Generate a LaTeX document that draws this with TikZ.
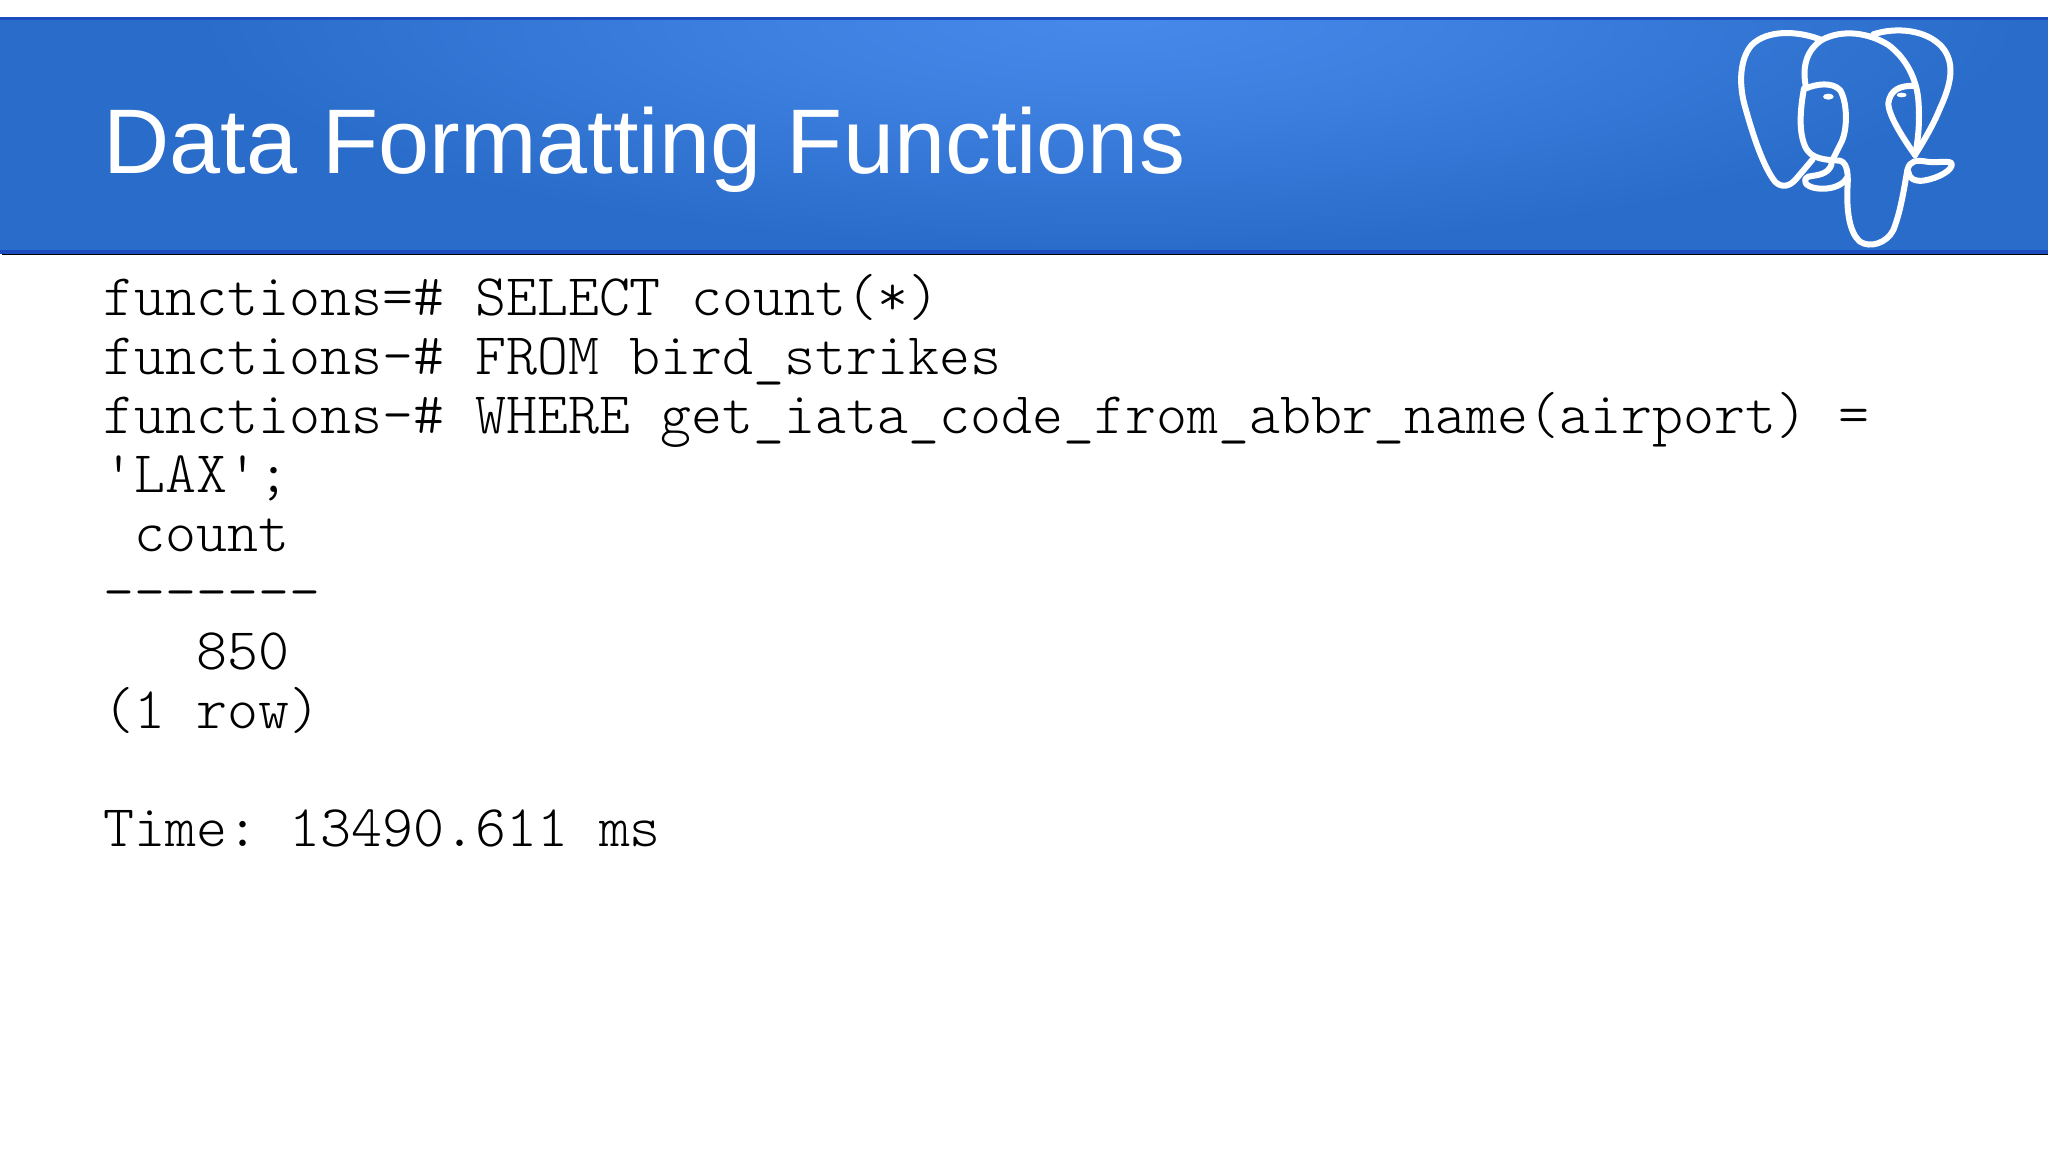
\documentclass[tikz,border=0pt]{standalone}
\usepackage{fontspec}
\setmainfont{Liberation Sans}
\setmonofont{Latin Modern Mono Light}
\usepackage{xcolor}
\definecolor{bannerbase}{HTML}{2A6CC9}
\definecolor{bannerglow}{HTML}{4789EA}
\definecolor{bannerrule}{HTML}{1D4CBE}
\pgfdeclareradialshading{bannerlight}{\pgfpoint{0bp}{0bp}}{color(0bp)=(bannerglow); color(9bp)=(bannerglow!70!bannerbase); color(24bp)=(bannerbase); color(50bp)=(bannerbase)}
\tikzstyle{codeline}=[anchor=base west, inner sep=0pt, font=\ttfamily\frenchspacing\fontsize{29.5pt}{29.5pt}\selectfont, text=black]
\tikzstyle{titleline}=[anchor=base west, inner sep=0pt, font=\fontsize{45.9pt}{45.9pt}\selectfont, text=white]
\tikzstyle{logoline}=[draw=white, line width=3pt, line cap=round, line join=round]

\begin{document}
\begin{tikzpicture}[x=0.5pt, y=-0.5pt]
    \useasboundingbox (0,0) rectangle (2048,1150);
    \fill[white] (0,0) rectangle (2048,1150);
    % banner
    \fill[bannerbase] (0,18) rectangle (2048,254);
    \begin{scope}
        \clip (0,18) rectangle (2048,254);
        \shade[shading=bannerlight] (1110,18) ellipse [x radius=950, y radius=240];
    \end{scope}
    \fill[bannerrule] (0,17) rectangle (2048,20);
    \fill[bannerrule] (0,250) rectangle (2048,253.5);
    \fill[black] (2,253.5) rectangle (2048,255);
    \node[titleline] (title) at (103,174) {Data Formatting Functions};
    % logo, traced on a 3x grid
    \begin{scope}[shift={(1700,0)}, x=0.5pt/3, y=-0.5pt/3]
        \draw[logoline] (365,120) .. controls (290,90) and (200,90) .. (155,135)
            .. controls (120,175) and (115,250) .. (135,320)
            .. controls (160,410) and (190,500) .. (225,545)
            .. controls (245,565) and (270,560) .. (290,535)
            -- (338,478);
        \draw[logoline] (318,262) .. controls (305,200) and (320,150) .. (365,120)
            .. controls (430,85) and (510,100) .. (565,135)
            .. controls (620,175) and (650,240) .. (655,300)
            .. controls (660,360) and (655,420) .. (645,465);
        \draw[logoline] (520,103) .. controls (590,80) and (680,90) .. (725,140)
            .. controls (770,190) and (750,260) .. (720,325)
            .. controls (700,375) and (670,425) .. (645,465);
        % eye sockets
        \draw[logoline] (318,265) .. controls (350,252) and (395,245) .. (420,270)
            .. controls (440,300) and (445,380) .. (425,425)
            -- (395,485);
        \draw[logoline] (645,258) .. controls (600,255) and (570,270) .. (565,310)
            .. controls (565,350) and (620,430) .. (645,465);
        % face and trunk
        \draw[logoline] (312,265) .. controls (300,330) and (295,400) .. (318,445)
            .. controls (335,475) and (370,480) .. (420,482)
            .. controls (445,490) and (445,530) .. (442,570)
            .. controls (440,640) and (450,700) .. (480,725)
            .. controls (510,745) and (560,730) .. (580,690)
            .. controls (600,640) and (610,580) .. (622,510)
            .. controls (630,480) and (650,480) .. (680,485)
            .. controls (710,490) and (745,480) .. (755,490)
            .. controls (760,510) and (715,535) .. (670,542)
            .. controls (645,545) and (625,535) .. (625,515);
        % tusk
        \draw[logoline] (395,492) .. controls (385,525) and (350,525) .. (325,530)
            .. controls (305,540) and (315,560) .. (350,565)
            .. controls (385,570) and (425,560) .. (440,535);
        % eyes
        \fill[white] (385,290) ellipse [x radius=16, y radius=9];
        \fill[white] (605,285) ellipse [x radius=15, y radius=7];
    \end{scope}
    % code
    \node[codeline] (line1) at (103,315) {functions=\# SELECT count(*)};
    \node[codeline] (line2) at (103,374) {functions-\# FROM bird\_strikes};
    \node[codeline] (line3) at (103,433) {functions-\# WHERE get\_iata\_code\_from\_abbr\_name(airport) =};
    \node[codeline] (line4) at (103,492) {'LAX';};
    \node[codeline] (line5) at (103,551) {\ count};
    \node[codeline] (line6) at (103,610) {-{}-{}-{}-{}-{}-{}-};
    \node[codeline] (line7) at (103,669) {\ \ \ 850};
    \node[codeline] (line8) at (103,728) {(1 row)};
    \node[codeline] (line9) at (103,846) {Time: 13490.611 ms};
\end{tikzpicture}
\end{document}
